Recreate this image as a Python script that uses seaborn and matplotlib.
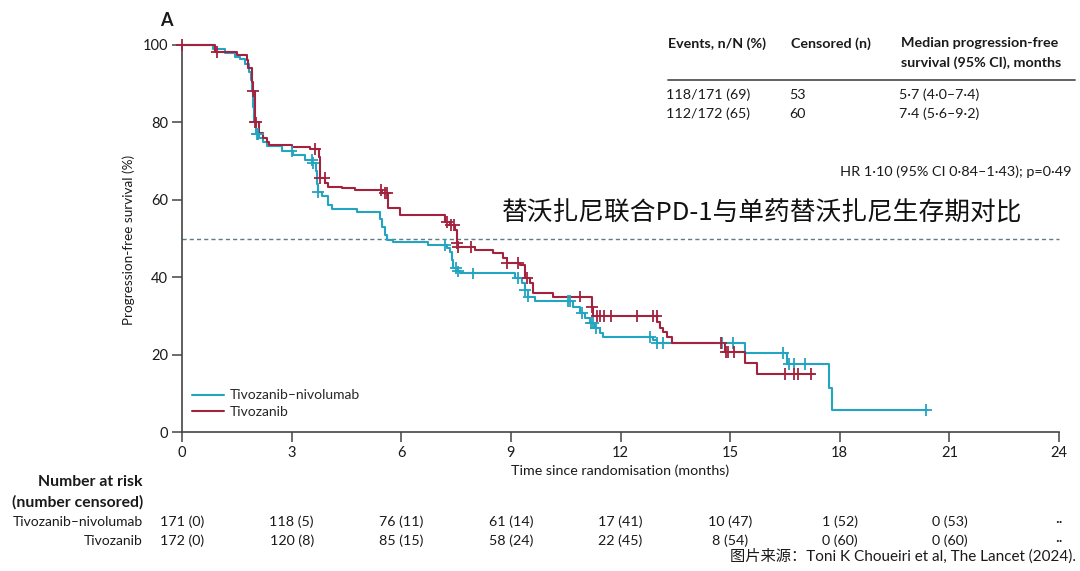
import numpy as np
import pandas as pd
import matplotlib
matplotlib.use("Agg")
import matplotlib.pyplot as plt
import seaborn as sns
from matplotlib import transforms
from matplotlib.lines import Line2D

# ---------------- data ----------------
combo_name = "Tivozanib–nivolumab"
mono_name = "Tivozanib"

combo_t = [0, 0.85, 1.18, 1.45, 1.59, 1.72, 1.83, 1.89, 1.92, 1.94, 1.97, 2.03, 2.11, 2.22, 2.33,
           2.74, 3.04, 3.37, 3.56, 3.67, 3.70, 3.72, 3.83, 4.00, 4.10, 4.79, 5.42, 5.47, 5.56,
           5.61, 5.77, 6.73, 7.25, 7.33, 7.39, 7.42, 7.55, 7.61, 9.11, 9.30, 9.39, 9.47, 9.66,
           10.70, 10.89, 11.03, 11.17, 11.30, 11.44, 11.52, 12.89, 13.00, 15.41, 16.56, 17.71,
           17.79, 20.40]
combo_s = [100, 99, 98, 97, 96.5, 95, 93, 91, 88, 84, 80, 77, 76, 75, 74,
           72.5, 71.5, 70.3, 69.5, 67.5, 64, 62, 61, 58.6, 57.6, 56.8, 55, 53, 51,
           49.6, 49, 48.3, 47.5, 46.5, 44.5, 42.4, 41.5, 41, 39.8, 38.5, 36.7, 35, 33.8,
           32.3, 30.7, 29.4, 28.1, 26.9, 25.6, 24.5, 23.8, 23, 20.4, 17.6, 11.4,
           5.7, 5.7]

mono_t = [0, 0.90, 1.51, 1.78, 1.81, 1.92, 1.94, 2.00, 2.11, 2.22, 2.33, 2.38, 3.01, 3.50,
          3.75, 3.78, 3.91, 4.00, 4.38, 4.73, 5.47, 5.64, 5.97, 7.20, 7.33, 7.47, 7.53, 7.55,
          8.02, 8.51, 8.78, 8.89, 9.25, 9.39, 9.52, 9.61, 10.15, 11.22, 11.25, 13.00, 13.08,
          13.16, 13.27, 13.41, 14.86, 15.41, 15.74, 17.30]
mono_s = [100, 98.2, 97.4, 96, 94, 90.4, 88, 80, 77.2, 76, 75, 74.2, 73.7, 73.1,
          71, 65.6, 64.3, 63.3, 63, 62.5, 61.8, 58, 56, 54.3, 53.5, 52.2, 48.8, 47.8,
          47, 46.3, 45, 43.6, 43.2, 39.8, 38.5, 35.9, 35, 32.3, 30, 28.5, 26.9,
          25.9, 24.6, 23, 20.7, 17.8, 15, 15]

combo_cens = [2.05, 2.08, 3.00, 3.55, 3.58, 3.73, 7.20, 7.50, 7.55, 7.96, 9.20, 9.39, 9.48,
              10.57, 10.62, 10.95, 11.20, 11.25, 11.32, 12.80, 13.00, 13.15, 14.78, 15.08,
              16.45, 16.60, 16.75, 17.05, 20.36]
mono_cens = [0.0, 0.95, 1.95, 2.00, 2.03, 3.65, 3.78, 3.90, 5.45, 5.55, 5.62, 7.25, 7.35,
             7.45, 7.53, 7.56, 7.90, 8.90, 9.20, 9.45, 10.90, 11.22, 11.35, 11.45, 11.55,
             11.75, 12.45, 12.90, 12.99, 14.75, 14.88, 14.95, 15.10, 16.50, 16.75, 16.85, 17.20]

xticks = [0, 3, 6, 9, 12, 15, 18, 21, 24]
yticks = [0, 20, 40, 60, 80, 100]
risk_combo = ["171 (0)", "118 (5)", "76 (11)", "61 (14)", "17 (41)", "10 (47)", "1 (52)", "0 (53)", "··"]
risk_mono = ["172 (0)", "120 (8)", "85 (15)", "58 (24)", "22 (45)", "8 (54)", "0 (60)", "0 (60)", "··"]

table_headers = ["Events, n/N (%)", "Censored (n)", "Median progression-free\nsurvival (95% CI), months"]
table_combo = ["118/171 (69)", "53", "5·7 (4·0–7·4)"]
table_mono = ["112/172 (65)", "60", "7·4 (5·6–9·2)"]
hr_text = "HR 1·10 (95% CI 0·84–1·43); p=0·49"
title_cn = "替沃扎尼联合PD-1与单药替沃扎尼生存期对比"
source_text = "图片来源：Toni K Choueiri et al, The Lancet (2024)."

# ---------------- style ----------------
sns.set_style("ticks")
plt.rcParams["font.family"] = ["Lato", "Noto Sans CJK SC", "DejaVu Sans"]
TEAL = "#23a4c1"
RED = "#a3233f"
TXT = "#1a1a1a"

W, H = 1080, 571
fig = plt.figure(figsize=(W / 100, H / 100), dpi=100)

def fx(x):
    return x / W

def fy(y):
    return 1 - y / H

ax = fig.add_axes([fx(182), fy(432), fx(1059) - fx(182), fy(45) - fy(432)])

df = pd.concat([
    pd.DataFrame({"t": combo_t, "s": combo_s, "arm": combo_name}),
    pd.DataFrame({"t": mono_t, "s": mono_s, "arm": mono_name}),
])
sns.lineplot(data=df, x="t", y="s", hue="arm", palette={combo_name: TEAL, mono_name: RED},
             drawstyle="steps-post", estimator=None, sort=False, lw=1.5, ax=ax, legend=False)

def cens_y(t, s, ct):
    t = np.asarray(t); s = np.asarray(s)
    idx = np.searchsorted(t, ct, side="right") - 1
    return s[idx]

cdf = pd.concat([
    pd.DataFrame({"t": combo_cens, "s": cens_y(combo_t, combo_s, combo_cens), "arm": combo_name}),
    pd.DataFrame({"t": mono_cens, "s": cens_y(mono_t, mono_s, mono_cens), "arm": mono_name}),
])
sns.scatterplot(data=cdf, x="t", y="s", hue="arm", palette={combo_name: TEAL, mono_name: RED},
                marker="+", s=70, linewidth=1.3, ax=ax, legend=False, zorder=4)

ax.axhline(50, color="#5d7d84", lw=1.0, ls=(0, (3, 2.2)), zorder=1)

for ln in ax.lines:
    ln.set_clip_on(False)
for c in ax.collections:
    c.set_clip_on(False)

ax.set_xlim(0, 24)
ax.set_ylim(0, 100)
ax.set_xticks(xticks)
ax.set_yticks(yticks)
ax.tick_params(axis="both", direction="out", length=7, width=1.1, color="#444444",
               labelsize=10.5, labelcolor=TXT, pad=3)
for sp in ["top", "right"]:
    ax.spines[sp].set_visible(False)
for sp in ["left", "bottom"]:
    ax.spines[sp].set_color("#444444")
    ax.spines[sp].set_linewidth(1.2)
ax.set_xlabel("")
ax.set_ylabel("")

# legend
handles = [Line2D([0], [0], color=TEAL, lw=1.5), Line2D([0], [0], color=RED, lw=1.5)]
ax.legend(handles, [combo_name, mono_name], loc="lower left",
          bbox_to_anchor=(0.005, 0.022), frameon=False, fontsize=10,
          handlelength=2.3, handletextpad=0.4, labelspacing=0.32, borderaxespad=0)

# axis labels
fig.text(fx(129), fy(240), "Progression-free survival (%)", rotation=90, ha="center",
         va="center", fontsize=9.7, color=TXT)
fig.text(fx(620), fy(471), "Time since randomisation (months)", ha="center", va="center",
         fontsize=10.3, color=TXT)
fig.text(fx(160), fy(20), "A", ha="left", va="center", fontsize=13, fontweight="bold", color=TXT)

# top-right table
col_x = [668, 791, 901]
for x, h in zip(col_x, table_headers):
    fig.text(fx(x), fy(37), h, ha="left", va="top", fontsize=10.3, fontweight="bold",
             color=TXT, linespacing=1.65)
fig.add_artist(Line2D([fx(668), fx(1075)], [fy(80), fy(80)], color="#555555", lw=1.3))
for x, v in zip(col_x, table_combo):
    fig.text(fx(x - 2), fy(95), v, ha="left", va="center", fontsize=10.3, color=TXT)
for x, v in zip(col_x, table_mono):
    fig.text(fx(x - 2), fy(114), v, ha="left", va="center", fontsize=10.3, color=TXT)
fig.text(fx(1071), fy(172), hr_text, ha="right", va="center", fontsize=10.4, color=TXT)

# Chinese title
fig.text(fx(502), fy(213), title_cn, ha="left", va="center", fontsize=18.5,
         family=["Noto Sans CJK SC", "DejaVu Sans"], color="#111111")

# risk table
tr = transforms.blended_transform_factory(ax.transData, fig.transFigure)
fig.text(fx(143), fy(482), "Number at risk", ha="right", va="center", fontsize=11.3,
         fontweight="bold", color=TXT)
fig.text(fx(143), fy(502), "(number censored)", ha="right", va="center", fontsize=11.3,
         fontweight="bold", color=TXT)
fig.text(fx(143), fy(522), combo_name, ha="right", va="center", fontsize=10, color=TXT)
fig.text(fx(143), fy(541), mono_name, ha="right", va="center", fontsize=10, color=TXT)
for xt, a, b in zip(xticks, risk_combo, risk_mono):
    ax.text(xt, fy(522), a, transform=tr, ha="center", va="center", fontsize=10.3, color=TXT)
    ax.text(xt, fy(541), b, transform=tr, ha="center", va="center", fontsize=10.3, color=TXT)

fig.text(fx(1076), fy(556), source_text, ha="right", va="center", fontsize=11,
         family=["Lato", "Noto Sans CJK SC"], color=TXT)

fig.savefig("out.png", dpi=100, facecolor="white")
